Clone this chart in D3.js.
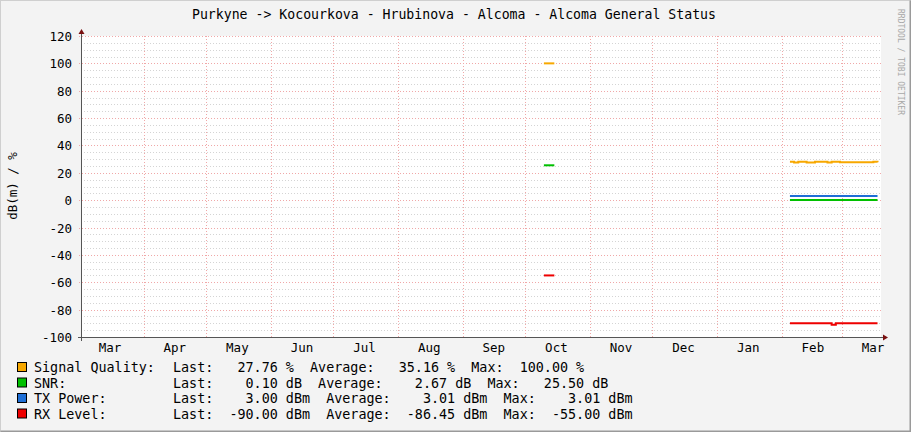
<!DOCTYPE html>
<html><head><meta charset="utf-8">
<script src="https://cdn.jsdelivr.net/npm/d3@7"></script>
<style>body{margin:0;background:#f3f3f3}svg{display:block}text{font-family:"DejaVu Sans Mono",monospace}</style>
</head><body><svg id="c" width="911" height="432"></svg>
<script>
const title = "Purkyne -> Kocourkova - Hrubinova - Alcoma - Alcoma General Status";
const yTicks = [120,100,80,60,40,20,0,-20,-40,-60,-80,-100];
const monthLabels = ["Mar","Apr","May","Jun","Jul","Aug","Sep","Oct","Nov","Dec","Jan","Feb","Mar"];
const octDates = ["2023-10-10","2023-10-15"];
const febDates = ["2024-02-05","2024-02-07","2024-02-09","2024-02-11","2024-02-13","2024-02-15","2024-02-17","2024-02-19","2024-02-21","2024-02-23","2024-02-25","2024-02-27","2024-02-29","2024-03-02","2024-03-04","2024-03-06","2024-03-08","2024-03-10","2024-03-12","2024-03-14","2024-03-16","2024-03-18"];
const sigOct = [100,100];
const snrOct = [25.5,25.5];
const rxOct = [-55,-55];
const sigFeb = [28,27.5,28,28,27.5,27.5,28,28,28,27.5,28,28,27.7,27.7,27.7,27.7,27.7,27.7,27.7,27.7,28,27.76];
const snrFeb = [0.1,0.1,0.1,0.1,0.1,0.1,0.1,0.1,0.1,0.1,0.1,0.1,0.1,0.1,0.1,0.1,0.1,0.1,0.1,0.1,0.1,0.1];
const txFeb = [3,3,3,3,3,3,3,3,3,3,3,3,3,3,3,3,3,3,3,3,3,3];
const rxFeb = [-90,-90,-90,-90,-90,-90,-90,-90,-90,-90,-91,-90,-90,-90,-90,-90,-90,-90,-90,-90,-90,-90];
const legendRows = [
 ["Signal Quality:","Last:   27.76 %  Average:   35.16 %  Max:  100.00 %","#f7a800"],
 ["SNR:","Last:    0.10 dB  Average:    2.67 dB  Max:   25.50 dB","#00c000"],
 ["TX Power:","Last:    3.00 dBm  Average:    3.01 dBm  Max:    3.01 dBm","#1e6fd6"],
 ["RX Level:","Last:  -90.00 dBm  Average:  -86.45 dBm  Max:  -55.00 dBm","#ee0000"]
];
const svg = d3.select("#c");
const pd = d3.utcParse("%Y-%m-%d");
const L=81,R=881,T=36,B=337;
const x = d3.scaleUtc().domain([pd("2023-03-02"),new Date(Date.UTC(2024,2,19,16))]).range([L,R]);
const y = d3.scaleLinear().domain([-100,120]).range([B,T]);
svg.append("rect").attr("x",0.5).attr("y",0.5).attr("width",910).attr("height",431).attr("fill","#f3f3f3").attr("stroke","#cfcfcf");
svg.append("path").attr("d","M910.5,0.5V431.5H0.5").attr("fill","none").attr("stroke","#9a9a9a").attr("stroke-width",2);
svg.append("rect").attr("x",L).attr("y",T).attr("width",R-L).attr("height",B-T).attr("fill","#fff");
d3.range(-100,121,5).filter(v=>v%20).forEach(v=>{
 svg.append("line").attr("x1",L).attr("x2",R).attr("y1",Math.round(y(v))+.5).attr("y2",Math.round(y(v))+.5).attr("stroke","#d4d4d4").attr("stroke-dasharray","1,2");
});
yTicks.forEach(v=>{
 const yy=Math.round(y(v))+.5;
 svg.append("line").attr("x1",L-2).attr("x2",R).attr("y1",yy).attr("y2",yy).attr("stroke","#f0a8a8").attr("stroke-dasharray","1,2");
 svg.append("text").attr("x",L-9).attr("y",yy+4).attr("text-anchor","end").attr("font-size",12.5).attr("fill","#000").text(v);
});
const months = x.ticks(d3.utcMonth.every(1));
months.forEach(m=>{
 const xx=Math.round(x(m))+.5;
 if(xx>L+2) svg.append("line").attr("x1",xx).attr("x2",xx).attr("y1",T).attr("y2",B+2).attr("stroke","#f0a8a8").attr("stroke-dasharray","1,2");
});
const mids = [pd("2023-02-15")].concat(months.map(m=>d3.utcDay.offset(m,15)));
mids.forEach((m,i)=>{
 let xx=x(m); if(i===0) xx=110; if(i===monthLabels.length-1) xx=873;
 if(i<monthLabels.length) svg.append("text").attr("x",xx).attr("y",352).attr("text-anchor","middle").attr("font-size",12.5).attr("fill","#000").text(monthLabels[i]);
});
svg.append("line").attr("x1",L+.5).attr("x2",L+.5).attr("y1",B+4).attr("y2",T-5).attr("stroke","#555");
svg.append("path").attr("d",`M${L-2.5},${T-2}L${L+3.5},${T-2}L${L+.5},${T-7}Z`).attr("fill","#7a1010");
svg.append("line").attr("x1",L-3).attr("x2",R+2).attr("y1",B+.5).attr("y2",B+.5).attr("stroke","#555");
svg.append("path").attr("d",`M${R+2},${B-2.5}L${R+2},${B+3.5}L${R+7},${B+.5}Z`).attr("fill","#7a1010");
const line = d3.line().x(d=>x(d[0])).y(d=>y(d[1])).curve(d3.curveStepAfter);
function draw(dates,vals,col){
 svg.append("path").datum(dates.map((d,i)=>[pd(d),vals[i]])).attr("d",line).attr("fill","none").attr("stroke",col).attr("stroke-width",2);
}
draw(octDates,sigOct,"#f7a800");draw(octDates,snrOct,"#00c000");draw(octDates,rxOct,"#ee0000");
draw(febDates,txFeb,"#1e6fd6");draw(febDates,snrFeb,"#00c000");draw(febDates,sigFeb,"#f7a800");draw(febDates,rxFeb,"#ee0000");
svg.append("text").attr("x",454).attr("y",19).attr("text-anchor","middle").attr("font-size",13.2).attr("fill","#000").text(title);
svg.append("text").attr("transform","translate(17,186) rotate(-90)").attr("text-anchor","middle").attr("font-size",12.5).attr("fill","#000").text("dB(m) / %");
svg.append("text").attr("transform","translate(898,62) rotate(90)").attr("text-anchor","middle").attr("font-size",8).attr("fill","#a8a8a8").text("RRDTOOL / TOBI OETIKER");
legendRows.forEach((r,i)=>{
 const yy=372+i*15.5;
 svg.append("rect").attr("x",17.5).attr("y",yy-9.5).attr("width",9).attr("height",9).attr("fill",r[2]).attr("stroke","#000");
 svg.append("text").attr("x",34).attr("y",yy).attr("font-size",13.4).style("white-space","pre").text(r[0]);
 svg.append("text").attr("x",173).attr("y",yy).attr("font-size",13.4).style("white-space","pre").text(r[1]);
});
</script></body></html>
